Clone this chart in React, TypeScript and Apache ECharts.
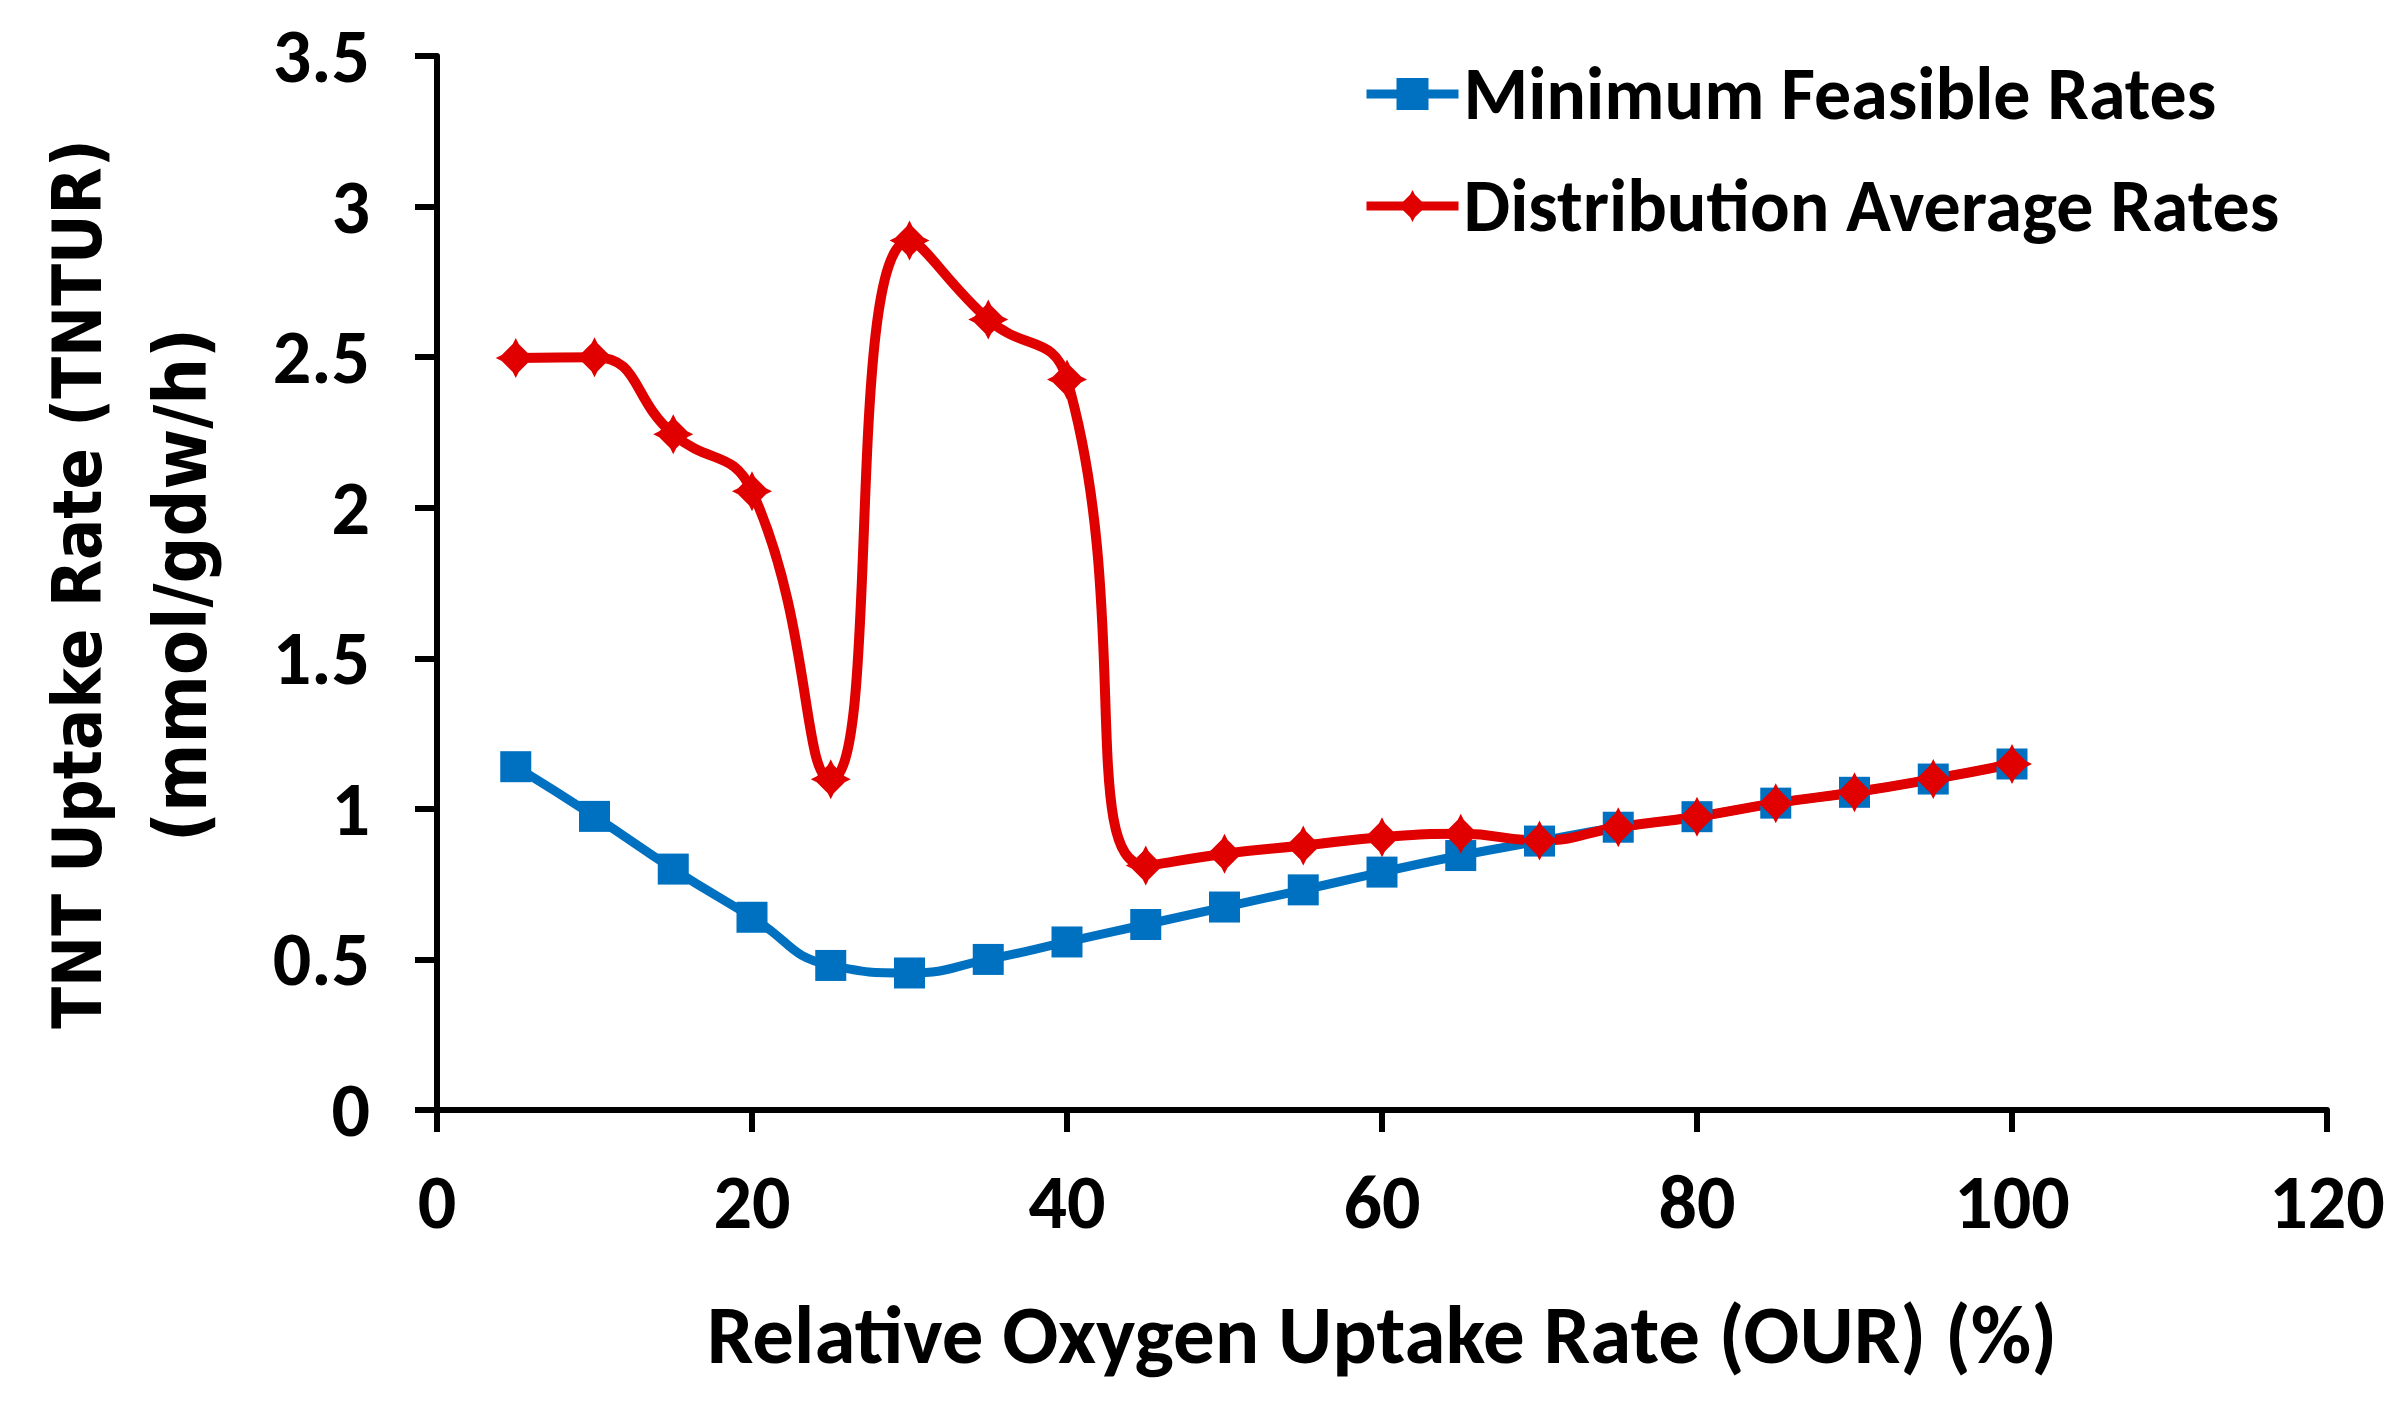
import React, { useEffect, useRef } from "react";
import * as echarts from "echarts";

const ourPercent = [5, 10, 15, 20, 25, 30, 35, 40, 45, 50, 55, 60, 65, 70, 75, 80, 85, 90, 95, 100];
const minimumFeasible = [1.14, 0.975, 0.80, 0.64, 0.48, 0.455, 0.50, 0.558, 0.616, 0.674, 0.731, 0.79, 0.845, 0.893, 0.939, 0.974, 1.019, 1.055, 1.099, 1.149];
const distributionAverage = [2.497, 2.50, 2.244, 2.055, 1.098, 2.887, 2.625, 2.426, 0.812, 0.851, 0.878, 0.906, 0.917, 0.895, 0.939, 0.974, 1.019, 1.055, 1.099, 1.149];
const seriesNames = ["Minimum Feasible Rates", "Distribution Average Rates"];
const xTitle = "Relative Oxygen Uptake Rate (OUR) (%)";
const yTitle1 = "TNT Uptake Rate (TNTUR)";
const yTitle2 = "(mmol/gdw/h)";

const BLUE = "#0070C0";
const RED = "#E00000";
const FONT = "Carlito, Lato, 'Open Sans', sans-serif";
const YFONT = "'DejaVu Sans Condensed', 'DejaVu Sans', sans-serif";
const STAR = "path://M0,-20 L3,-14 L14,-3 L20,0 L14,3 L3,14 L0,20 L-3,14 L-14,3 L-20,0 L-14,-3 L-3,-14 Z";

export default function App() {
  const ref = useRef<HTMLDivElement>(null);
  useEffect(() => {
    document.body.style.margin = "0";
    const chart = echarts.init(ref.current!, null, { renderer: "svg" });
    chart.setOption({
      animation: false,
      backgroundColor: "#ffffff",
      grid: { left: 437, right: 79, top: 56, bottom: 293, containLabel: false },
      legend: {
        orient: "vertical",
        left: 1357,
        top: 52,
        itemWidth: 92,
        itemHeight: 40,
        itemGap: 38,
        lineStyle: { width: 9 },
        textStyle: { fontFamily: FONT, fontWeight: "bold", fontSize: 74, lineHeight: 74, color: "#000" },
        data: seriesNames,
      },
      xAxis: {
        type: "value",
        min: 0,
        max: 120,
        interval: 20,
        name: xTitle,
        nameLocation: "middle",
        nameGap: 183,
        nameTextStyle: { fontFamily: FONT, fontWeight: "bold", fontSize: 83, color: "#000" },
        axisLine: { lineStyle: { color: "#000", width: 6 } },
        axisTick: { show: true, inside: false, length: 22, lineStyle: { color: "#000", width: 6 } },
        axisLabel: { fontFamily: FONT, fontWeight: "bold", fontSize: 76, color: "#000", margin: 54 },
        splitLine: { show: false },
      },
      yAxis: {
        type: "value",
        min: 0,
        max: 3.5,
        interval: 0.5,
        axisLine: { show: true, lineStyle: { color: "#000", width: 6 } },
        axisTick: { show: true, inside: false, length: 22, lineStyle: { color: "#000", width: 6 } },
        axisLabel: { fontFamily: FONT, fontWeight: "bold", fontSize: 76, color: "#000", margin: 67 },
        splitLine: { show: false },
      },
      graphic: [
        {
          type: "text",
          x: 77,
          y: 584,
          rotation: Math.PI / 2,
          style: { text: yTitle1, fontFamily: YFONT, fontWeight: "bold", fontSize: 68, fill: "#000", align: "center", verticalAlign: "middle" },
        },
        {
          type: "text",
          x: 180,
          y: 585,
          rotation: Math.PI / 2,
          style: { text: yTitle2, fontFamily: YFONT, fontWeight: "bold", fontSize: 73, fill: "#000", align: "center", verticalAlign: "middle" },
        },
      ],
      series: [
        {
          name: seriesNames[0],
          type: "line",
          data: ourPercent.map((x, i) => [x, minimumFeasible[i]]),
          smooth: 0.5,
          symbol: "rect",
          symbolSize: 31,
          lineStyle: { color: BLUE, width: 9 },
          itemStyle: { color: BLUE },
        },
        {
          name: seriesNames[1],
          type: "line",
          data: ourPercent.map((x, i) => [x, distributionAverage[i]]),
          smooth: 0.5,
          symbol: STAR,
          symbolSize: 40,
          lineStyle: { color: RED, width: 10 },
          itemStyle: { color: RED },
        },
      ],
    });
    return () => chart.dispose();
  }, []);
  return <div ref={ref} style={{ width: 2406, height: 1403 }} />;
}
